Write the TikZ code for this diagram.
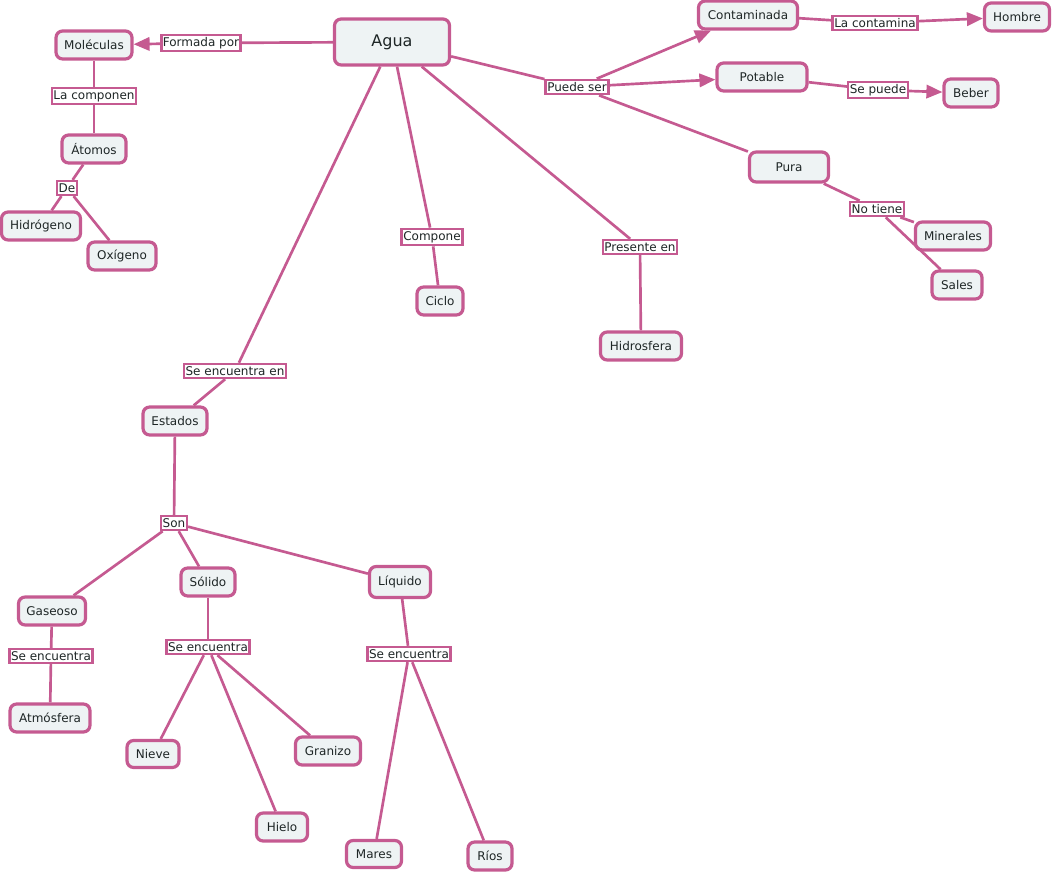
\documentclass[tikz,border=0pt]{standalone}
\usepackage{fontspec}
\setmainfont{DejaVu Sans}
\usetikzlibrary{arrows.meta}
\definecolor{cmapline}{RGB}{197,90,145}
\definecolor{cmapfill}{RGB}{238,243,244}
\definecolor{cmaptext}{RGB}{30,38,38}

\begin{document}
\begin{tikzpicture}[x=0.75pt,y=-0.75pt,
    concept/.style={draw=cmapline, fill=cmapfill, rounded corners=5pt, line width=2.4pt,
      minimum height=21pt, inner sep=2pt, text=cmaptext, font=\fontsize{9}{10}\selectfont},
    bw/.style={minimum width=#1*0.75pt},
    bh/.style={minimum height=#1*0.75pt},
    link/.style={draw=cmapline, fill=white, line width=1.9pt, inner xsep=1.2pt, inner ysep=1.8pt,
      text=cmaptext, font=\fontsize{9}{10}\selectfont},
    conn/.style={draw=cmapline, line width=2pt},
    arr/.style={conn, -{Triangle[length=12pt,width=10pt]}}]
    \useasboundingbox (0,0) rectangle (1053,873);

    % Concepts
    \node[concept, bw=115, bh=46, font=\fontsize{12}{14}\selectfont] (agua) at (392,42) {Agua};
    \node[concept, bw=76] (mol) at (94,45) {Moléculas};
    \node[concept, bw=64] (ato) at (94,149) {Átomos};
    \node[concept, bw=79] (hid) at (41,226) {Hidrógeno};
    \node[concept, bw=68] (oxi) at (122,256) {Oxígeno};
    \node[concept, bw=46] (cic) at (440,301) {Ciclo};
    \node[concept, bw=81] (hsf) at (641,346) {Hidrosfera};
    \node[concept, bw=99] (con) at (748,15) {Contaminada};
    \node[concept, bw=65] (hom) at (1017,17) {Hombre};
    \node[concept, bw=90] (pot) at (762,77) {Potable};
    \node[concept, bw=54] (beb) at (971,93) {Beber};
    \node[concept, bw=79, bh=30] (pur) at (789,167) {Pura};
    \node[concept, bw=75] (min) at (953,236) {Minerales};
    \node[concept, bw=50] (sal) at (957,285) {Sales};
    \node[concept, bw=64] (est) at (175,421) {Estados};
    \node[concept, bw=67] (gas) at (52,611) {Gaseoso};
    \node[concept, bw=54] (sol) at (208,582) {Sólido};
    \node[concept, bw=61, bh=31] (liq) at (400,582) {Líquido};
    \node[concept, bw=80] (atm) at (50,718) {Atmósfera};
    \node[concept, bw=52, bh=27] (nie) at (153,754) {Nieve};
    \node[concept, bw=65] (gra) at (328,751) {Granizo};
    \node[concept, bw=51] (hie) at (282,827) {Hielo};
    \node[concept, bw=55, bh=27] (mar) at (374,854) {Mares};
    \node[concept, bw=44] (rio) at (490,856) {Ríos};

    % Linking phrases
    \node[link] (fpor) at (201,43) {Formada por};
    \node[link] (lcom) at (94,96) {La componen};
    \node[link] (de) at (67,188) {De};
    \node[link] (comp) at (432,237) {Compone};
    \node[link] (pres) at (640,247) {Presente en};
    \node[link] (pser) at (577,87) {Puede ser};
    \node[link] (lcon) at (875,23) {La contamina};
    \node[link] (spue) at (878,90) {Se puede};
    \node[link] (ntie) at (877,209) {No tiene};
    \node[link] (senc) at (235,371) {Se encuentra en};
    \node[link] (son) at (174,523) {Son};
    \node[link] (sgas) at (51,656) {Se encuentra};
    \node[link] (ssol) at (208,647) {Se encuentra};
    \node[link] (sliq) at (409,654) {Se encuentra};

    % Connectors
    \draw[conn] (agua) -- (fpor);
    \draw[arr] (fpor) -- (mol);
    \draw[conn] (mol) -- (lcom);
    \draw[conn] (lcom) -- (ato);
    \draw[conn] (ato) -- (de);
    \draw[conn] (de) -- (hid);
    \draw[conn] (de) -- (oxi);
    \draw[conn] (agua) -- (comp);
    \draw[conn] (comp) -- (cic);
    \draw[conn] (agua) -- (pres);
    \draw[conn] (pres) -- (hsf);
    \draw[conn] (agua) -- (pser);
    \draw[arr] (pser) -- (con);
    \draw[arr] (pser) -- (pot);
    \draw[conn] (pser) -- (pur);
    \draw[conn] (con) -- (lcon);
    \draw[arr] (lcon) -- (hom);
    \draw[conn] (pot) -- (spue);
    \draw[arr] (spue) -- (beb);
    \draw[conn] (pur) -- (ntie);
    \draw[conn] (ntie) -- (min);
    \draw[conn] (ntie) -- (sal);
    \draw[conn] (agua) -- (senc);
    \draw[conn] (senc) -- (est);
    \draw[conn] (est) -- (son);
    \draw[conn] (son) -- (gas);
    \draw[conn] (son) -- (sol);
    \draw[conn] (son) -- (liq);
    \draw[conn] (gas) -- (sgas);
    \draw[conn] (sgas) -- (atm);
    \draw[conn] (sol) -- (ssol);
    \draw[conn] (ssol) -- (nie);
    \draw[conn] (ssol) -- (hie);
    \draw[conn] (ssol) -- (gra);
    \draw[conn] (liq) -- (sliq);
    \draw[conn] (sliq) -- (mar);
    \draw[conn] (sliq) -- (rio);
\end{tikzpicture}
\end{document}
